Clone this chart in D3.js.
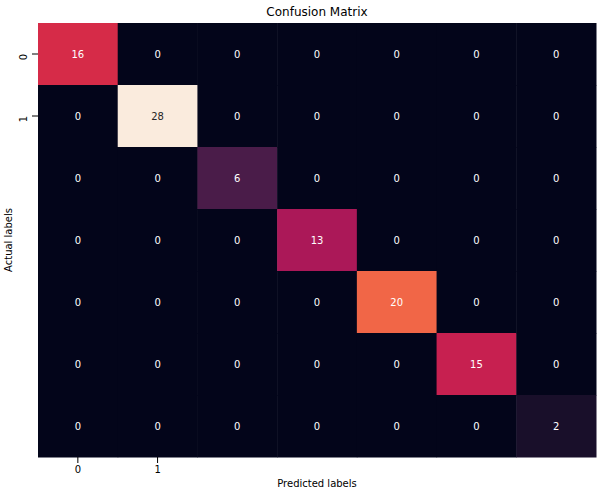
<!DOCTYPE html>
<html>
<head>
  <script src="https://d3js.org/d3.v7.min.js"></script>
  <style>
    body { margin: 0; background: #fff; font-family: "DejaVu Sans", sans-serif; }
    text { font-family: "DejaVu Sans", sans-serif; }
  </style>
</head>
<body>
  <div id="chart"></div>
  <script>
    var rows = [0, 1, 2, 3, 4, 5, 6];
    var cols = [0, 1, 2, 3, 4, 5, 6];
    var matrix = [
      [16, 0, 0, 0, 0, 0, 0],
      [0, 28, 0, 0, 0, 0, 0],
      [0, 0, 6, 0, 0, 0, 0],
      [0, 0, 0, 13, 0, 0, 0],
      [0, 0, 0, 0, 20, 0, 0],
      [0, 0, 0, 0, 0, 15, 0],
      [0, 0, 0, 0, 0, 0, 2]
    ];
    var tickLabels = ["0", "1"];

    var margin = { top: 23, right: 7, bottom: 39, left: 38 };
    var width = 603 - margin.left - margin.right;
    var height = 496 - margin.top - margin.bottom;

    var svg = d3.select("#chart").append("svg")
      .attr("width", 603).attr("height", 496)
      .append("g")
      .attr("transform", "translate(" + margin.left + "," + margin.top + ")");

    var x = d3.scaleBand().domain(cols).range([0, width]);
    var y = d3.scaleBand().domain(rows).range([0, height]);

    // approximation of seaborn "rocket"
    var rocket = d3.scaleLinear()
      .domain([0, 0.1, 0.2, 0.3, 0.4, 0.5, 0.6, 0.7, 0.8, 0.9, 1])
      .range(["#03051a", "#221331", "#451c47", "#6a1f56", "#921c5b", "#b91657",
              "#e13342", "#f06043", "#f4875e", "#f6b48e", "#faebdd"])
      .interpolate(d3.interpolateRgb);
    var maxV = d3.max(matrix, function(r) { return d3.max(r); });

    var cells = [];
    matrix.forEach(function(r, i) {
      r.forEach(function(v, j) { cells.push({ row: rows[i], col: cols[j], v: v }); });
    });

    svg.selectAll("rect").data(cells).enter().append("rect")
      .attr("x", function(d) { return x(d.col); })
      .attr("y", function(d) { return y(d.row); })
      .attr("width", x.bandwidth() + 0.5)
      .attr("height", y.bandwidth() + 0.5)
      .attr("fill", function(d) { return rocket(d.v / maxV); });

    svg.selectAll(".val").data(cells).enter().append("text")
      .attr("x", function(d) { return x(d.col) + x.bandwidth() / 2; })
      .attr("y", function(d) { return y(d.row) + y.bandwidth() / 2; })
      .attr("text-anchor", "middle")
      .attr("dominant-baseline", "central")
      .attr("font-size", 10)
      .attr("fill", function(d) {
        var c = d3.rgb(rocket(d.v / maxV));
        var l = 0.2126 * c.r + 0.7152 * c.g + 0.0722 * c.b;
        return l > 150 ? "#262626" : "#ffffff";
      })
      .text(function(d) { return d.v; });

    var xAxis = svg.append("g")
      .attr("transform", "translate(0," + height + ")")
      .call(d3.axisBottom(x).tickValues([0, 1]).tickFormat(function(d, i) { return tickLabels[i]; }).tickSizeOuter(0));
    var yAxis = svg.append("g")
      .call(d3.axisLeft(y).tickValues([0, 1]).tickFormat(function(d, i) { return tickLabels[i]; }).tickSizeOuter(0));
    xAxis.select(".domain").remove();
    yAxis.select(".domain").remove();
    svg.selectAll(".tick text").attr("font-size", 10).attr("fill", "#000");
    svg.selectAll(".tick line").attr("stroke", "#000");
    yAxis.selectAll(".tick text")
      .attr("transform", function() {
        var t = d3.select(this);
        return "rotate(-90," + t.attr("x") + ",0)";
      })
      .attr("text-anchor", "middle").attr("dy", "-0.2em").attr("x", -12);

    svg.append("text")
      .attr("x", width / 2).attr("y", height + 30)
      .attr("text-anchor", "middle").attr("font-size", 10)
      .text("Predicted labels");
    svg.append("text")
      .attr("transform", "rotate(-90)")
      .attr("x", -height / 2).attr("y", -26)
      .attr("text-anchor", "middle").attr("font-size", 10)
      .text("Actual labels");
    svg.append("text")
      .attr("x", width / 2).attr("y", -7)
      .attr("text-anchor", "middle").attr("font-size", 12)
      .text("Confusion Matrix");
  </script>
</body>
</html>
